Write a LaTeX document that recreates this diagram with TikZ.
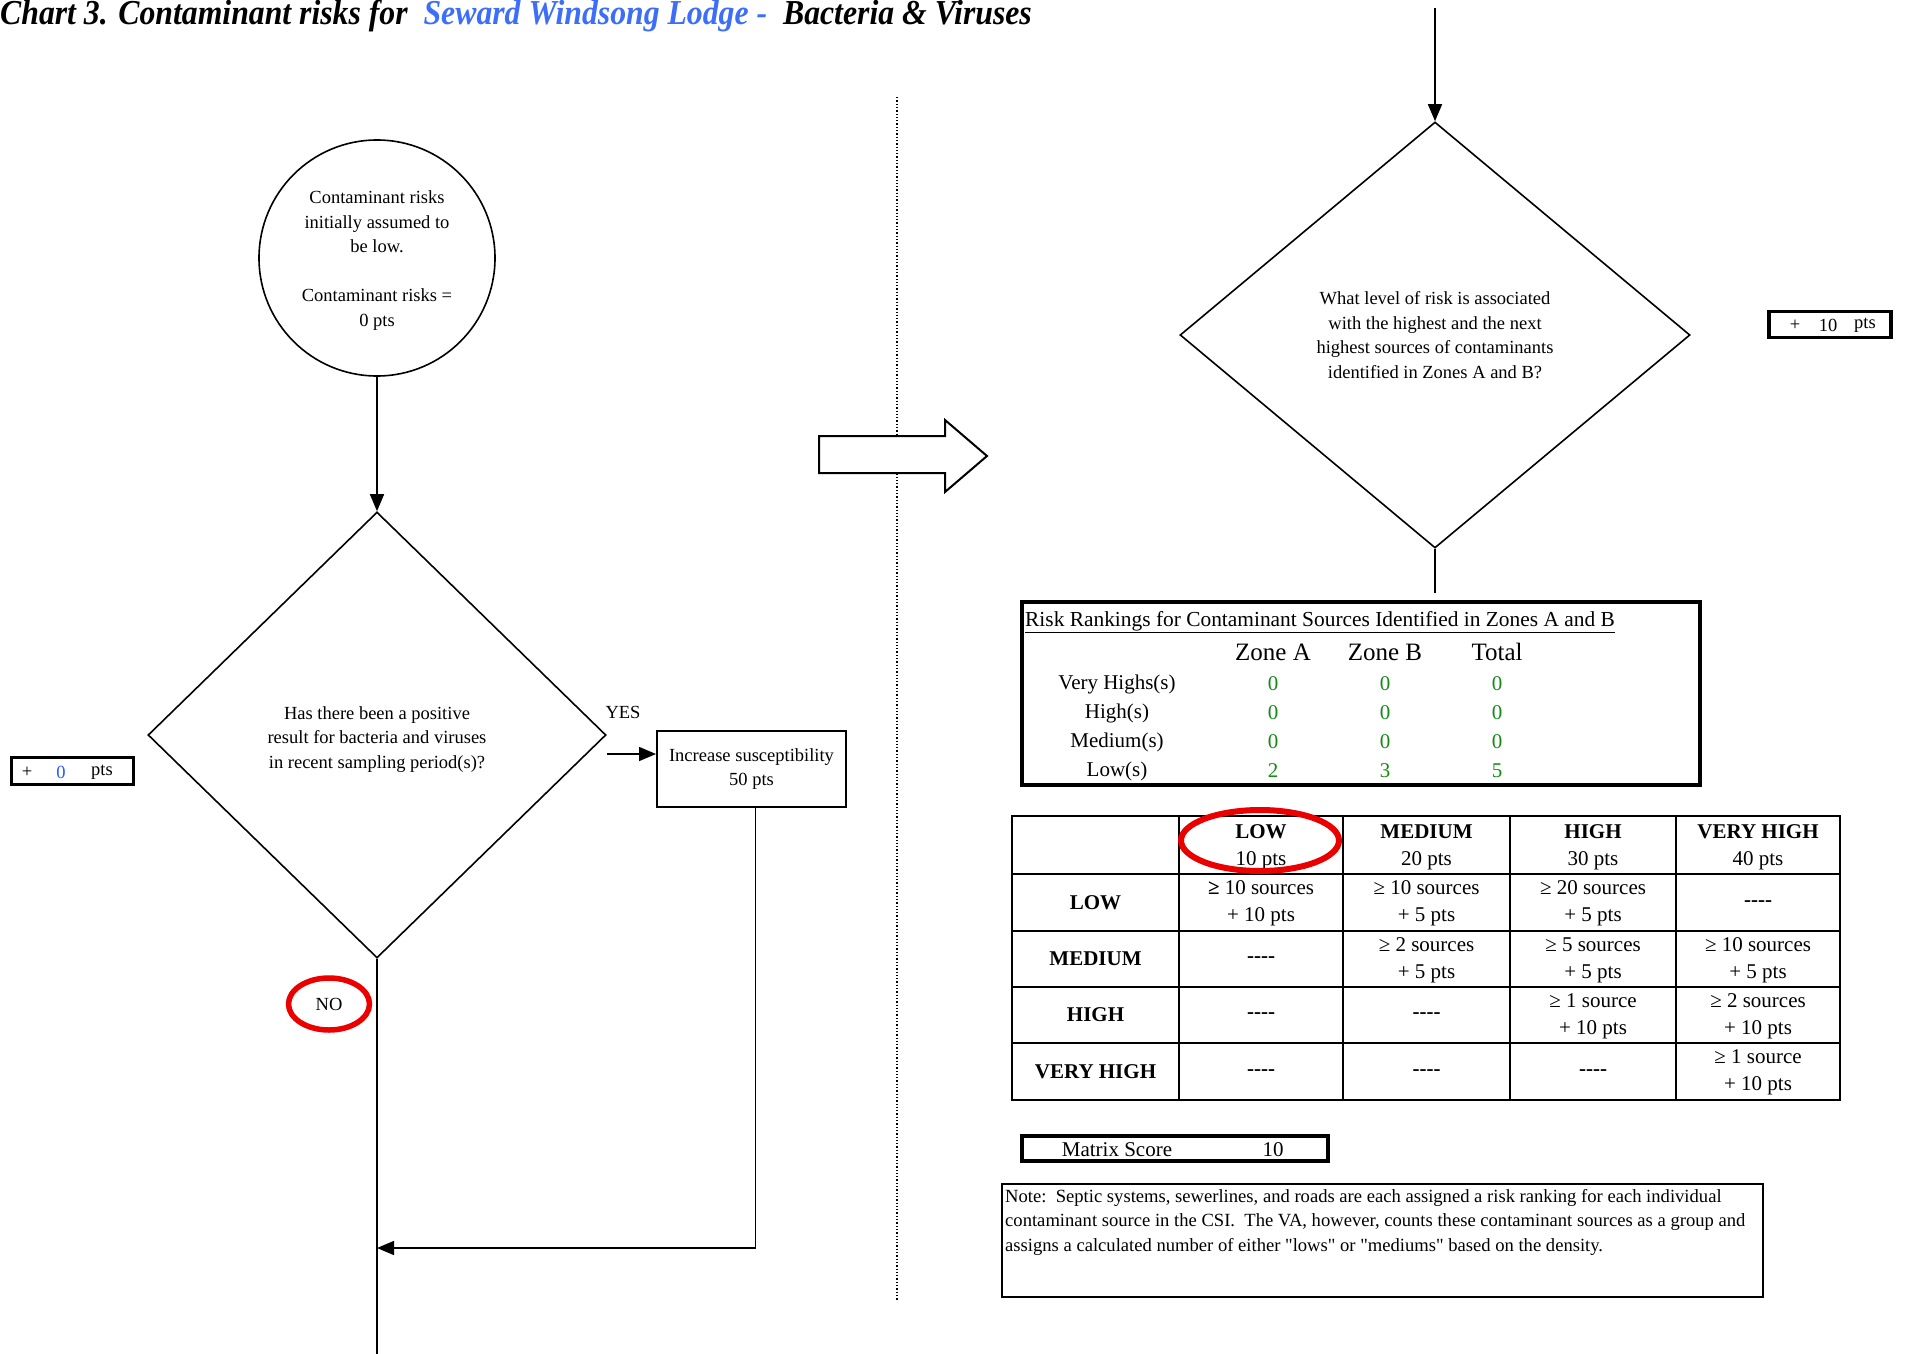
\documentclass[tikz,border=0pt]{standalone}
\usepackage{fontspec}
\setmainfont{Liberation Serif}
\newfontfamily\plainserif{Liberation Serif}
\usetikzlibrary{shapes.geometric,arrows.meta}
\definecolor{tblue}{RGB}{60,110,250}
\definecolor{vblue}{RGB}{40,90,255}
\definecolor{vgreen}{RGB}{20,140,20}
\definecolor{ringred}{RGB}{235,0,0}
\begin{document}
\begin{tikzpicture}[x=1pt,y=-1pt,
  conn/.style={line width=1.6pt},
  arr/.style={conn,-{Triangle[length=17pt,width=14pt]}},
  fc/.style={font=\fontsize{18.5}{24.5}\selectfont, align=center},
  mt/.style={font=\fontsize{21}{27}\selectfont, align=center, inner sep=0pt},
  rrt/.style={font=\fontsize{21}{27}\selectfont, inner sep=0pt},
  ring/.style={ellipse, draw=ringred, line width=5.5pt, inner sep=0pt},
  ptsbox/.style={draw, line width=3.5pt, inner sep=0pt},
  gridline/.style={line width=2.5pt},
]
\useasboundingbox[fill=white] (0,0) rectangle (1908,1354);

% title
\node[anchor=base west, inner sep=0pt, xscale=0.907,
      font=\fontsize{35}{40}\selectfont\bfseries\itshape] (title) at (0,24.5)
  {Chart 3. Contaminant risks for\ \ \textcolor{tblue}{Seward Windsong Lodge -}\ \ Bacteria \& Viruses};

% divider and block arrow
\draw[line width=1.3pt, dash pattern=on 1.3pt off 2pt] (897,97) -- (897,1300);
\draw[line width=2pt, fill=white] (819,436) -- (945,436) -- (945,420) -- (987,456)
  -- (945,492) -- (945,473) -- (819,473) -- cycle;

% left flow
\node[circle, draw, line width=1.6pt, minimum size=236pt] (start) at (377,258) {};
\node[fc, inner sep=0pt] (starttext) at ([yshift=-2.5pt]start.center)
  {Contaminant risks\\initially assumed to\\be low.\\[24.5pt]Contaminant risks =\\0 pts};
\node[diamond, draw, line width=1.6pt, minimum width=458pt, minimum height=446pt,
      inner sep=0pt] (q1) at (377,735) {};
\node[fc, inner sep=0pt] (q1text) at ([yshift=-4.5pt]q1.center)
  {Has there been a positive\\result for bacteria and viruses\\in recent sampling period(s)?};
\node[draw, line width=2pt, minimum width=189pt, minimum height=76pt, inner sep=0pt, fc]
  (susc) at (751.5,769) {Increase susceptibility\\50 pts};
\node[fc, inner sep=0pt] (yes) at (623,712) {YES};
\node[ring, minimum width=81pt, minimum height=52pt, fc] (no) at (329,1004) {NO};

\draw[arr] (start.south) -- (q1.north);
\coordinate (yesfrom) at ([yshift=-19pt]q1.east);
\draw[arr] (yesfrom) -- (yesfrom -| susc.west);
\coordinate (mergeY) at (0,1248);
\coordinate (merge) at (q1.south |- mergeY);
\coordinate (leftend) at (377,1354);
\draw[conn] (q1.south) -- (leftend);
\draw[arr] ([xshift=4pt]susc.south) |- (merge);

% + 0 pts box
\node[ptsbox, minimum width=122pt, minimum height=27pt] (p0) at (72.5,771) {};
\node[fc, inner sep=0pt] (p0a) at (27,772) {+};
\node[fc, inner sep=0pt, text=vblue] (p0b) at (61,772) {0};
\node[fc, inner sep=0pt] (p0c) at (102,772) {pts};

% right flow
\coordinate (topin) at (1435,8);
\node[diamond, draw, line width=1.6pt, minimum width=510pt, minimum height=426pt,
      inner sep=0pt, fc] (q2) at (1435,335)
  {What level of risk is associated\\with the highest and the next\\highest sources of contaminants\\identified in Zones A and B?};
\draw[arr] (topin) -- (q2.north);
\coordinate (q2end) at (1435,593);
\draw[conn] (q2.south) -- (q2end);

% + 10 pts box
\node[ptsbox, minimum width=122pt, minimum height=26pt] (p10) at (1830,324.5) {};
\node[fc, inner sep=0pt] (p10a) at (1795,325.5) {+};
\node[fc, inner sep=0pt] (p10b) at (1828,325.5) {10};
\node[fc, inner sep=0pt] (p10c) at (1865,325.5) {pts};

% risk rankings box
\node[draw, line width=3.5pt, minimum width=678pt, minimum height=183pt, inner sep=0pt]
  (rrbox) at (1361,693.5) {};
\node[anchor=base west, inner sep=0pt, font=\fontsize{21.4}{24}\selectfont] (rrtitle) at (1025,626)
  {\underline{Risk Rankings for Contaminant Sources Identified in Zones A and B}};
\node[inner sep=0pt, font=\fontsize{25}{30}\selectfont] (hA) at (1273,652) {Zone A};
\node[inner sep=0pt, font=\fontsize{25}{30}\selectfont] (hB) at (1385,652) {Zone B};
\node[inner sep=0pt, font=\fontsize{25}{30}\selectfont] (hT) at (1497,652) {Total};
\foreach \lab/\yy/\va/\vb/\vt [count=\i] in
  {Very Highs(s)/684/0/0/0, High(s)/713/0/0/0, Medium(s)/742/0/0/0, Low(s)/771/2/3/5}{
  \node[rrt] (rl\i) at (1117,\yy) {\lab};
  \node[rrt, text=vgreen] (ra\i) at (1273,\yy) {\va};
  \node[rrt, text=vgreen] (rb\i) at (1385,\yy) {\vb};
  \node[rrt, text=vgreen] (rt\i) at (1497,\yy) {\vt};
}

% matrix
\draw[gridline] (1012,816) rectangle (1840,1100);
\foreach \xx in {1179,1343,1510,1676} \draw[gridline] (\xx,816) -- (\xx,1100);
\foreach \yy in {874,931,987,1043} \draw[gridline] (1012,\yy) -- (1840,\yy);

\node[mt] (c01) at (1261,847) {\textbf{LOW}\\10 pts};
\node[mt] (c02) at (1426.5,847) {\textbf{MEDIUM}\\20 pts};
\node[mt] (c03) at (1593,847) {\textbf{HIGH}\\30 pts};
\node[mt] (c04) at (1758,847) {\textbf{VERY HIGH}\\40 pts};

\node[mt] (c10) at (1095.5,902.5) {\textbf{LOW}};
\node[mt] (c11) at (1261,903.5) {\textbf{≥} 10 sources\\+ 10 pts};
\node[mt] (c12) at (1426.5,903.5) {≥ 10 sources\\+ 5 pts};
\node[mt] (c13) at (1593,903.5) {≥ 20 sources\\+ 5 pts};
\node[mt] (c14) at (1758,904) {\textbf{-{}-{}-{}-}};

\node[mt] (c20) at (1095.5,959) {\textbf{MEDIUM}};
\node[mt] (c21) at (1261,960) {\textbf{-{}-{}-{}-}};
\node[mt] (c22) at (1426.5,960) {≥ 2 sources\\+ 5 pts};
\node[mt] (c23) at (1593,960) {≥ 5 sources\\+ 5 pts};
\node[mt] (c24) at (1758,960) {≥ 10 sources\\+ 5 pts};

\node[mt] (c30) at (1095.5,1015) {\textbf{HIGH}};
\node[mt] (c31) at (1261,1016) {\textbf{-{}-{}-{}-}};
\node[mt] (c32) at (1426.5,1016) {\textbf{-{}-{}-{}-}};
\node[mt] (c33) at (1593,1016) {≥ 1 source\\+ 10 pts};
\node[mt] (c34) at (1758,1016) {≥ 2 sources\\+ 10 pts};

\node[mt] (c40) at (1095.5,1071.5) {\textbf{VERY HIGH}};
\node[mt] (c41) at (1261,1072.5) {\textbf{-{}-{}-{}-}};
\node[mt] (c42) at (1426.5,1072.5) {\textbf{-{}-{}-{}-}};
\node[mt] (c43) at (1593,1072.5) {\textbf{-{}-{}-{}-}};
\node[mt] (c44) at (1758,1072.5) {≥ 1 source\\+ 10 pts};

\node[ring, line width=6pt, minimum width=158pt, minimum height=61pt] (lowring) at (1260,840.5) {};

% matrix score
\node[draw, line width=3.5pt, minimum width=306pt, minimum height=25pt, inner sep=0pt]
  (msbox) at (1175,1148.5) {};
\node[rrt] (mslab) at (1117,1150) {Matrix Score};
\node[rrt] (msval) at (1273,1150) {10};

% note
\node[draw, line width=2pt, minimum width=761pt, minimum height=113pt, inner sep=0pt]
  (notebox) at (1382.5,1240.5) {};
\node[anchor=north west, inner sep=0pt, align=left, font=\fontsize{18.6}{24.5}\selectfont]
  (notetext) at (1005,1189)
  {Note:\ \ Septic systems, sewerlines, and roads are each assigned a risk ranking for each individual\\
   contaminant source in the CSI.\ \ The VA, however, counts these contaminant sources as a group and\\
   assigns a calculated number of either {\plainserif "}lows{\plainserif "} or {\plainserif "}mediums{\plainserif "} based on the density.};
\end{tikzpicture}
\end{document}
